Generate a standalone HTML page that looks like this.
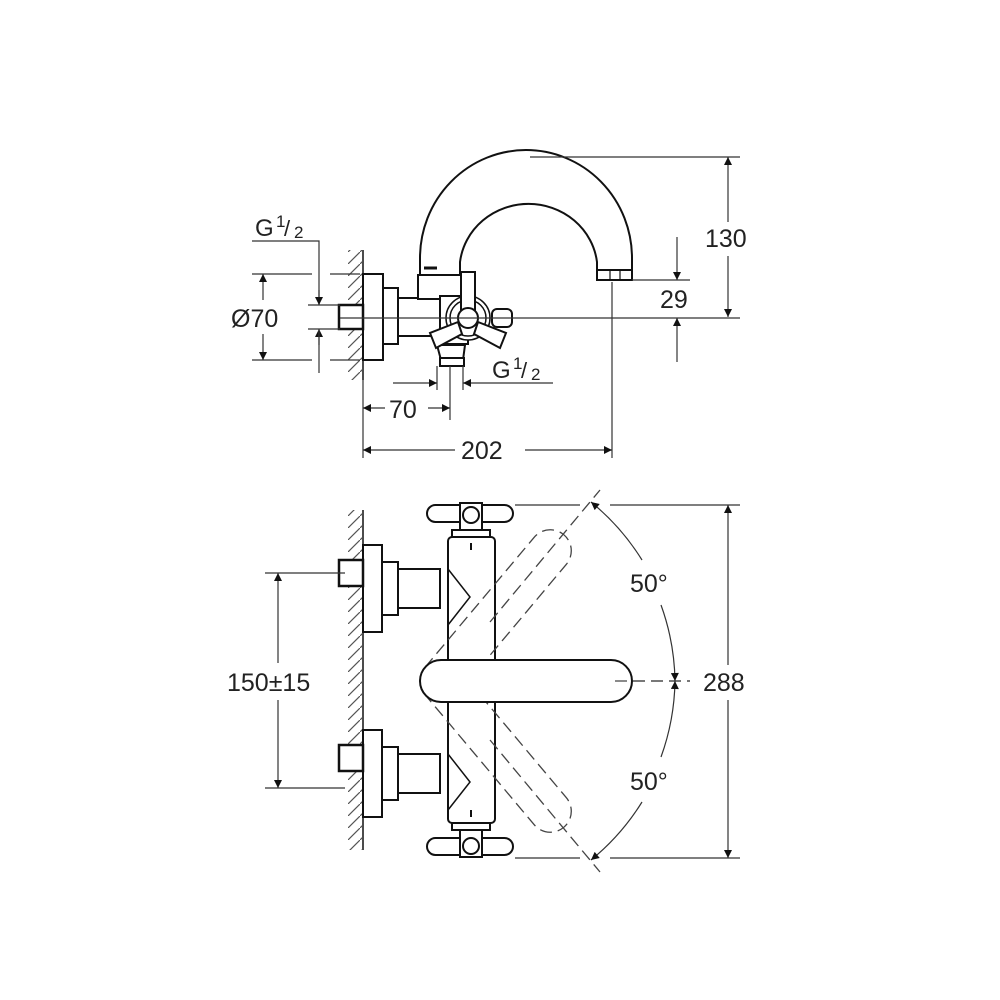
<!DOCTYPE html>
<html><head><meta charset="utf-8"><style>
html,body{margin:0;padding:0;background:#fff;}
svg{display:block}
text{font-family:"Liberation Sans",Arial,sans-serif;fill:#222;}
</style></head><body>
<svg width="1000" height="1000" viewBox="0 0 1000 1000" xmlns="http://www.w3.org/2000/svg">
<defs>
<pattern id="h" width="12" height="12" patternUnits="userSpaceOnUse">
<line x1="-1" y1="13" x2="13" y2="-1" stroke="#555" stroke-width="1.2"/>
</pattern>
<marker id="a" viewBox="0 0 10 10" refX="10" refY="5" markerWidth="12" markerHeight="8" markerUnits="userSpaceOnUse" orient="auto-start-reverse">
<path d="M0,0 L10,5 L0,10 z" fill="#111"/>
</marker>
</defs>
<g fill="none" stroke="#111" stroke-width="2">
<!-- TOP VIEW -->
<rect x="348" y="250" width="14" height="130" fill="url(#h)" stroke="none"/>
<line x1="363" y1="250" x2="363" y2="380" stroke-width="1.5"/>
<rect x="363" y="274" width="20" height="86" fill="#fff"/>
<rect x="383" y="288" width="15" height="56" fill="#fff"/>
<rect x="398" y="298" width="42" height="38" fill="#fff"/>
<rect x="339" y="305" width="24" height="24" fill="#fff" stroke-width="2.5"/>
<!-- spout -->
<path d="M420,275 L420,258 A106,108 0 0 1 632,258 L632,272 L597,272 L597,262 A69,66 0 0 0 460,262 L460,275" fill="#fff"/>
<rect x="597" y="270" width="35" height="10" fill="#fff"/>
<line x1="610" y1="270" x2="610" y2="280" stroke-width="1.2"/>
<line x1="620" y1="270" x2="620" y2="280" stroke-width="1.2"/>
<line x1="424" y1="268" x2="437" y2="268" stroke-width="3"/>
<rect x="418" y="275" width="44" height="24" fill="#fff"/>
<rect x="440" y="296" width="28" height="48" fill="#fff"/>
<!-- cross handle -->
<circle cx="468" cy="318" r="22" fill="#fff" stroke-width="1.5"/>
<circle cx="468" cy="318" r="18" stroke-width="1.5"/>
<rect x="492" y="309" width="20" height="18" rx="5" fill="#fff"/>
<path d="M437,345 L441,360 L463,360 L465,345 Z" fill="#fff"/>
<rect x="440" y="358" width="24" height="8" fill="#fff"/>
<rect x="461" y="272" width="14" height="38" fill="#fff"/>
<path d="M458,322 L430,333 L436,348 L462,334 Z" fill="#fff"/>
<path d="M478,322 L506,333 L500,348 L474,334 Z" fill="#fff"/>
<circle cx="468" cy="318" r="10" fill="#fff"/>
</g>
<g stroke="#333" stroke-width="1.2" fill="none">
<line x1="340" y1="318" x2="740" y2="318"/>
<line x1="530" y1="157" x2="740" y2="157"/>
<line x1="728" y1="157" x2="728" y2="222" marker-start="url(#a)"/>
<line x1="728" y1="256" x2="728" y2="317" marker-end="url(#a)"/>
<line x1="632" y1="280" x2="690" y2="280"/>
<line x1="677" y1="237" x2="677" y2="280" marker-end="url(#a)"/>
<line x1="677" y1="362" x2="677" y2="318" marker-end="url(#a)"/>
<line x1="363" y1="380" x2="363" y2="458"/>
<line x1="612" y1="282" x2="612" y2="458"/>
<line x1="363" y1="450" x2="455" y2="450" marker-start="url(#a)"/>
<line x1="525" y1="450" x2="612" y2="450" marker-end="url(#a)"/>
<line x1="450" y1="366" x2="450" y2="420"/>
<line x1="363" y1="408" x2="385" y2="408" marker-start="url(#a)"/>
<line x1="428" y1="408" x2="450" y2="408" marker-end="url(#a)"/>
<line x1="437" y1="366" x2="437" y2="390"/>
<line x1="463" y1="366" x2="463" y2="390"/>
<line x1="393" y1="383" x2="437" y2="383" marker-end="url(#a)"/>
<line x1="553" y1="383" x2="463" y2="383" marker-end="url(#a)"/>
<line x1="252" y1="274" x2="312" y2="274"/><line x1="330" y1="274" x2="360" y2="274"/>
<line x1="252" y1="360" x2="312" y2="360"/><line x1="330" y1="360" x2="360" y2="360"/>
<line x1="263" y1="300" x2="263" y2="274" marker-end="url(#a)"/>
<line x1="263" y1="334" x2="263" y2="360" marker-end="url(#a)"/>
<polyline points="252,241 319,241 319,305"/>
<line x1="319" y1="290" x2="319" y2="305" marker-end="url(#a)"/>
<line x1="319" y1="345" x2="319" y2="329" marker-end="url(#a)"/>
<line x1="319" y1="329" x2="319" y2="373"/>
<line x1="308" y1="305" x2="340" y2="305"/>
<line x1="308" y1="329" x2="340" y2="329"/>
</g>
<text x="255" y="236" font-size="24">G</text><text x="276" y="227" font-size="17">1</text><text x="284" y="236" font-size="22">/</text><text x="294" y="238" font-size="17">2</text>
<text x="492" y="378" font-size="24">G</text><text x="513" y="369" font-size="17">1</text><text x="521" y="378" font-size="22">/</text><text x="531" y="380" font-size="17">2</text>
<text x="231" y="327" font-size="25">Ø70</text>
<text x="705" y="247" font-size="25">130</text>
<text x="660" y="308" font-size="25">29</text>
<text x="389" y="418" font-size="25">70</text>
<text x="461" y="459" font-size="25">202</text>

<!-- BOTTOM VIEW -->
<g fill="none" stroke="#111" stroke-width="2">
<rect x="348" y="510" width="14" height="340" fill="url(#h)" stroke="none"/>
<line x1="363" y1="510" x2="363" y2="850" stroke-width="1.5"/>
<g id="inl">
<rect x="363" y="545" width="19" height="87" fill="#fff"/>
<rect x="382" y="562" width="16" height="53" fill="#fff"/>
<rect x="398" y="569" width="42" height="39" fill="#fff"/>
<rect x="339" y="560" width="24" height="26" fill="#fff" stroke-width="2.5"/>
</g>
<use href="#inl" y="185"/>
<rect x="448" y="537" width="47" height="286" rx="4" fill="none"/>
<polyline points="448,569 470,597 448,625" stroke-width="1.5"/>
<polyline points="448,754 470,782 448,810" stroke-width="1.5"/>
<rect x="452" y="530" width="38" height="7" fill="#fff"/>
<rect x="427" y="505" width="86" height="17" rx="8.5" fill="#fff"/>
<rect x="460" y="503" width="22" height="27" fill="#fff"/>
<circle cx="471" cy="515" r="8"/>
<rect x="452" y="823" width="38" height="7" fill="#fff"/>
<rect x="427" y="838" width="86" height="17" rx="8.5" fill="#fff"/>
<rect x="460" y="830" width="22" height="27" fill="#fff"/>
<circle cx="471" cy="846" r="8"/>
<line x1="471" y1="543" x2="471" y2="550"/><line x1="471" y1="810" x2="471" y2="817"/>
</g>
<g fill="none" stroke="#444" stroke-width="1.3" stroke-dasharray="12,6">
<rect x="420" y="660" width="212" height="42" rx="21" transform="rotate(-50 441 681)"/>
<rect x="420" y="660" width="212" height="42" rx="21" transform="rotate(50 441 681)"/>
<line x1="490" y1="622" x2="600" y2="490"/>
<line x1="490" y1="740" x2="600" y2="872"/>
<line x1="615" y1="681" x2="690" y2="681"/>
</g>
<rect x="420" y="660" width="212" height="42" rx="21" fill="#fff" stroke="#111" stroke-width="2"/>
<line x1="615" y1="681" x2="690" y2="681" stroke="#444" stroke-width="1.3" stroke-dasharray="12,6"/>
<g stroke="#333" stroke-width="1.2" fill="none">
<path d="M591,502 A234,234 0 0 1 642,560" marker-start="url(#a)"/>
<path d="M661,605 A234,234 0 0 1 675,681" marker-end="url(#a)"/>
<path d="M675,681 A234,234 0 0 1 661,757" marker-start="url(#a)"/>
<path d="M642,802 A234,234 0 0 1 591,860" marker-end="url(#a)"/>
<line x1="515" y1="505" x2="580" y2="505"/><line x1="610" y1="505" x2="740" y2="505"/>
<line x1="515" y1="858" x2="580" y2="858"/><line x1="610" y1="858" x2="740" y2="858"/>
<line x1="728" y1="505" x2="728" y2="665" marker-start="url(#a)"/>
<line x1="728" y1="700" x2="728" y2="858" marker-end="url(#a)"/>
<line x1="265" y1="573" x2="345" y2="573"/>
<line x1="265" y1="788" x2="345" y2="788"/>
<line x1="278" y1="573" x2="278" y2="663" marker-start="url(#a)"/>
<line x1="278" y1="700" x2="278" y2="788" marker-end="url(#a)"/>
</g>
<text x="630" y="592" font-size="25">50°</text>
<text x="630" y="790" font-size="25">50°</text>
<text x="703" y="691" font-size="25">288</text>
<text x="227" y="691" font-size="25">150±15</text>
</svg>
</body></html>
